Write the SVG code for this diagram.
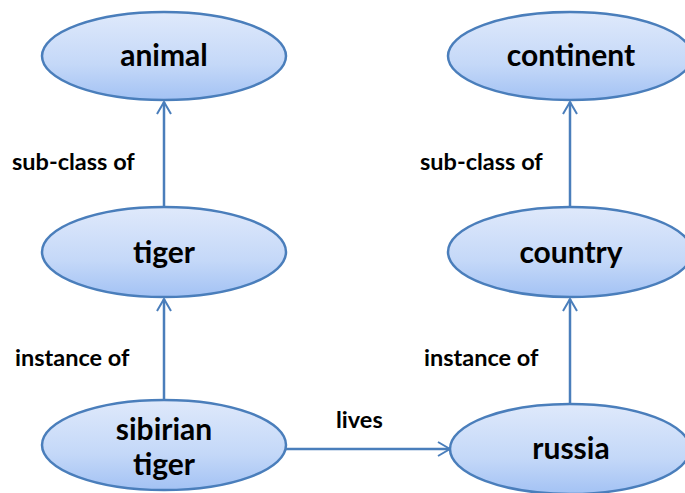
<svg xmlns="http://www.w3.org/2000/svg" width="685" height="493" viewBox="0 0 685 493">
  <defs>
    <linearGradient id="nodeFill" x1="0" y1="0" x2="0" y2="1">
      <stop offset="0" stop-color="#dfe9fb"/>
      <stop offset="0.6" stop-color="#c4d8f8"/>
      <stop offset="1" stop-color="#a3c2f4"/>
    </linearGradient>
    <marker id="openArrow" viewBox="0 0 14 16" refX="13" refY="8" markerWidth="14" markerHeight="16" markerUnits="userSpaceOnUse" orient="auto">
      <path d="M1,1 L13,8 L1,15" fill="none" stroke="#4a7ebb" stroke-width="2"/>
    </marker>
    <style>
      .node ellipse { fill: url(#nodeFill); stroke: #4a7ebb; stroke-width: 2.5; }
      .node text { font-family: Lato, "Open Sans", "Liberation Sans", sans-serif; font-weight: 700; font-size: 30px; fill: #000; text-anchor: middle; }
      .edge { stroke: #4a7ebb; stroke-width: 2.5; fill: none; marker-end: url(#openArrow); }
      .label { font-family: Lato, "Open Sans", "Liberation Sans", sans-serif; font-weight: 700; font-size: 23.5px; fill: #000; }
    </style>
  </defs>

  <g id="connectors">
    <line class="edge" x1="164" y1="206" x2="164" y2="102"/>
    <line class="edge" x1="164" y1="400" x2="164" y2="299"/>
    <line class="edge" x1="570" y1="206" x2="570" y2="102"/>
    <line class="edge" x1="570" y1="404" x2="570" y2="299"/>
    <line class="edge" x1="286" y1="449" x2="450" y2="449"/>
    <text class="label" x="12" y="170">sub-class of</text>
    <text class="label" x="15" y="366">instance of</text>
    <text class="label" x="420" y="170">sub-class of</text>
    <text class="label" x="424" y="366">instance of</text>
    <text class="label" x="336" y="428">lives</text>
  </g>

  <g id="animal" class="node">
    <ellipse cx="164" cy="56" rx="122" ry="44"/>
    <text x="164" y="66">animal</text>
  </g>
  <g id="tiger" class="node">
    <ellipse cx="164" cy="252" rx="122" ry="45"/>
    <text x="164" y="263">tiger</text>
  </g>
  <g id="sibirian-tiger" class="node">
    <ellipse cx="164" cy="445" rx="122" ry="45"/>
    <text x="164" y="440">sibirian</text>
    <text x="164" y="475">tiger</text>
  </g>
  <g id="continent" class="node">
    <ellipse cx="570" cy="56" rx="122" ry="44"/>
    <text x="571" y="66">continent</text>
  </g>
  <g id="country" class="node">
    <ellipse cx="570" cy="252" rx="122" ry="45"/>
    <text x="571" y="263">country</text>
  </g>
  <g id="russia" class="node">
    <ellipse cx="570" cy="449" rx="120" ry="45"/>
    <text x="571" y="459">russia</text>
  </g>
</svg>
